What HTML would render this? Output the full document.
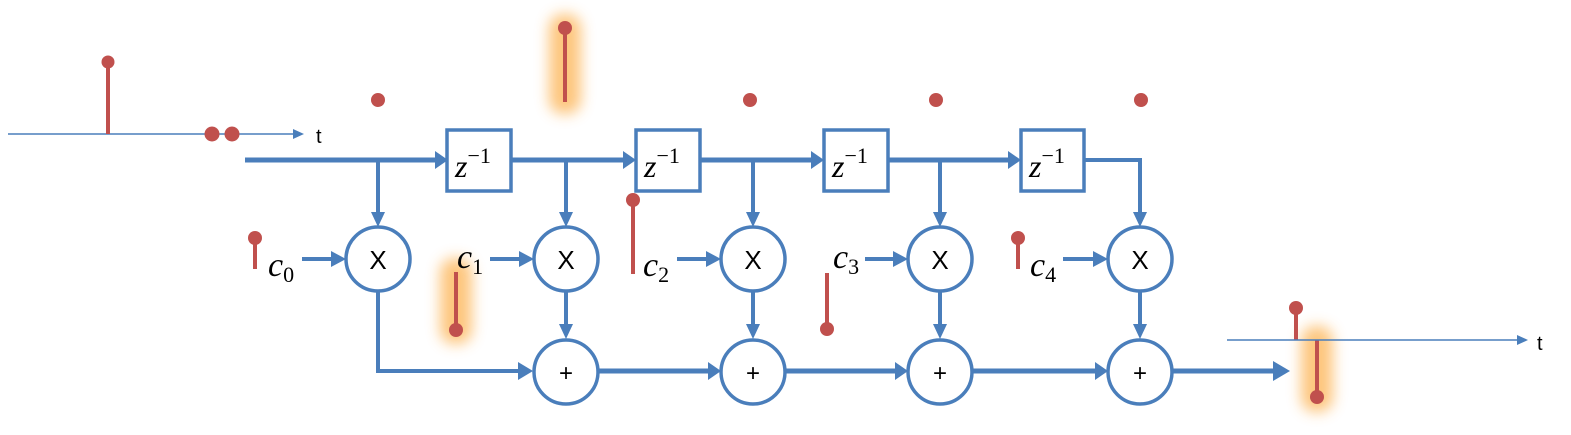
<!DOCTYPE html>
<html><head><meta charset="utf-8"><style>
html,body{margin:0;padding:0;background:#fff;width:1571px;height:435px;overflow:hidden}
svg{display:block}
text{font-family:"Liberation Sans",sans-serif}
.m{font-family:"Liberation Serif",serif;font-style:italic}
</style></head><body>
<svg width="1571" height="435" viewBox="0 0 1571 435" xmlns="http://www.w3.org/2000/svg">
<defs>
<filter id="g" x="-200%" y="-50%" width="500%" height="200%"><feGaussianBlur stdDeviation="7"/></filter>
</defs>
<!-- glows -->
<g fill="#fdc06f" opacity="0.9" filter="url(#g)">
<rect x="549" y="14" width="32" height="100" rx="14"/>
<rect x="440" y="258" width="32" height="86" rx="14"/>
<rect x="1301" y="326" width="32" height="86" rx="14"/>
</g>
<!-- input axis -->
<line x1="8" y1="134" x2="296" y2="134" stroke="#4a7ebb" stroke-width="1.5"/>
<path d="M293,129 L304,134 L293,139 z" fill="#4a7ebb"/>
<text x="316" y="143" font-size="20">t</text>
<g stroke="#c0504d" stroke-width="4" fill="#c0504d">
<line x1="108" y1="62" x2="108" y2="134"/><circle cx="108" cy="62" r="6.5" stroke="none"/>
<circle cx="212" cy="134" r="7.5" stroke="none"/><circle cx="232" cy="134" r="7.5" stroke="none"/>
<circle cx="378" cy="100" r="7" stroke="none"/><circle cx="750" cy="100" r="7" stroke="none"/>
<circle cx="936" cy="100" r="7" stroke="none"/><circle cx="1141" cy="100" r="7" stroke="none"/>
<line x1="565" y1="28" x2="565" y2="102"/><circle cx="565" cy="28" r="7" stroke="none"/>
<line x1="255" y1="238" x2="255" y2="269"/><circle cx="255" cy="238" r="7" stroke="none"/>
<line x1="456" y1="272" x2="456" y2="330"/><circle cx="456" cy="330" r="7" stroke="none"/>
<line x1="633" y1="200" x2="633" y2="274"/><circle cx="633" cy="200" r="7" stroke="none"/>
<line x1="827" y1="273" x2="827" y2="329"/><circle cx="827" cy="329" r="7" stroke="none"/>
<line x1="1018" y1="238" x2="1018" y2="269"/><circle cx="1018" cy="238" r="7" stroke="none"/>
<line x1="1296" y1="308" x2="1296" y2="340"/><circle cx="1296" cy="308" r="7" stroke="none"/>
<line x1="1317" y1="340" x2="1317" y2="397"/><circle cx="1317" cy="397" r="7" stroke="none"/>
</g>
<!-- output axis -->
<line x1="1227" y1="340" x2="1520" y2="340" stroke="#4a7ebb" stroke-width="1.5"/>
<path d="M1517,335 L1528,340 L1517,345 z" fill="#4a7ebb"/>
<text x="1537" y="350" font-size="20">t</text>
<!-- main lines -->
<g stroke="#4a7ebb" stroke-width="5" fill="none">
<line x1="245" y1="160" x2="437" y2="160"/>
<line x1="511" y1="160" x2="625" y2="160"/>
<line x1="700" y1="160" x2="813" y2="160"/>
<line x1="888" y1="160" x2="1010" y2="160"/>
<polyline points="1084,160 1140,160 1140,212" stroke-width="4"/>
<line x1="1172" y1="371" x2="1275" y2="371"/>
<line x1="598" y1="371" x2="710" y2="371"/>
<line x1="785" y1="371" x2="897" y2="371"/>
<line x1="972" y1="371" x2="1097" y2="371"/>
<polyline points="378,292 378,371 520,371" stroke-width="4"/>
</g>
<g fill="#4a7ebb">
<path d="M435,151 L448,160 L435,169 z"/>
<path d="M623,151 L636,160 L623,169 z"/>
<path d="M811,151 L824,160 L811,169 z"/>
<path d="M1008,151 L1021,160 L1008,169 z"/>
<path d="M1273,361 L1290,371 L1273,381 z"/>
<path d="M518,362 L533,371 L518,380 z"/>
<path d="M708,362 L721,371 L708,380 z"/>
<path d="M895,362 L908,371 L895,380 z"/>
<path d="M1095,362 L1108,371 L1095,380 z"/>
</g>
<!-- branches -->
<g stroke="#4a7ebb" stroke-width="4">
<line x1="378" y1="160" x2="378" y2="214"/>
<line x1="566" y1="160" x2="566" y2="214"/>
<line x1="753" y1="160" x2="753" y2="214"/>
<line x1="940" y1="160" x2="940" y2="214"/>
<line x1="566" y1="292" x2="566" y2="326"/>
<line x1="753" y1="292" x2="753" y2="326"/>
<line x1="940" y1="292" x2="940" y2="326"/>
<line x1="1140" y1="292" x2="1140" y2="326"/>
<line x1="302" y1="259" x2="333" y2="259"/>
<line x1="490" y1="259" x2="521" y2="259"/>
<line x1="677" y1="259" x2="708" y2="259"/>
<line x1="865" y1="259" x2="895" y2="259"/>
<line x1="1063" y1="259" x2="1095" y2="259"/>
</g>
<g fill="#4a7ebb">
<path d="M371,212 L378,227 L385,212 z"/><path d="M559,212 L566,227 L573,212 z"/>
<path d="M746,212 L753,227 L760,212 z"/><path d="M933,212 L940,227 L947,212 z"/>
<path d="M1133,212 L1140,227 L1147,212 z"/>
<path d="M559,324 L566,339 L573,324 z"/><path d="M746,324 L753,339 L760,324 z"/>
<path d="M933,324 L940,339 L947,324 z"/><path d="M1133,324 L1140,339 L1147,324 z"/>
<path d="M331,251 L346,259 L331,267 z"/><path d="M519,251 L534,259 L519,267 z"/>
<path d="M706,251 L721,259 L706,267 z"/><path d="M893,251 L908,259 L893,267 z"/>
<path d="M1093,251 L1108,259 L1093,267 z"/>
</g>
<!-- boxes -->
<g fill="#fff" stroke="#4a7ebb" stroke-width="3.5">
<rect x="447" y="130" width="64" height="61"/>
<rect x="636" y="130" width="64" height="61"/>
<rect x="824" y="130" width="64" height="61"/>
<rect x="1021" y="130" width="63" height="61"/>
</g>
<g font-size="32">
<text x="455" y="177" class="m">z<tspan font-size="22" dy="-14" font-style="normal">−1</tspan></text>
<text x="644" y="177" class="m">z<tspan font-size="22" dy="-14" font-style="normal">−1</tspan></text>
<text x="832" y="177" class="m">z<tspan font-size="22" dy="-14" font-style="normal">−1</tspan></text>
<text x="1029" y="177" class="m">z<tspan font-size="22" dy="-14" font-style="normal">−1</tspan></text>
</g>
<!-- circles -->
<g fill="#fff" stroke="#4a7ebb" stroke-width="3.5">
<circle cx="378" cy="259" r="32"/><circle cx="566" cy="259" r="32"/><circle cx="753" cy="259" r="32"/><circle cx="940" cy="259" r="32"/><circle cx="1140" cy="259" r="32"/>
<circle cx="566" cy="372" r="32"/><circle cx="753" cy="372" r="32"/><circle cx="940" cy="372" r="32"/><circle cx="1140" cy="372" r="32"/>
</g>
<g font-size="26" text-anchor="middle">
<text x="378" y="269">X</text><text x="566" y="269">X</text><text x="753" y="269">X</text><text x="940" y="269">X</text><text x="1140" y="269">X</text>
<text x="566" y="381" font-size="24">+</text><text x="753" y="381" font-size="24">+</text><text x="940" y="381" font-size="24">+</text><text x="1140" y="381" font-size="24">+</text>
</g>
<!-- coefficient labels -->
<g font-size="34">
<text x="268" y="276" class="m">c<tspan font-size="22" dy="6" font-style="normal">0</tspan></text>
<text x="457" y="268" class="m">c<tspan font-size="22" dy="6" font-style="normal">1</tspan></text>
<text x="643" y="276" class="m">c<tspan font-size="22" dy="6" font-style="normal">2</tspan></text>
<text x="833" y="268" class="m">c<tspan font-size="22" dy="6" font-style="normal">3</tspan></text>
<text x="1030" y="276" class="m">c<tspan font-size="22" dy="6" font-style="normal">4</tspan></text>
</g>
</svg>
</body></html>
